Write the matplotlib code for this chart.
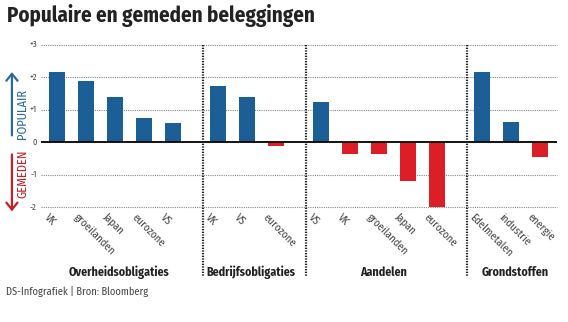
import matplotlib
matplotlib.use("Agg")
import matplotlib.pyplot as plt
from matplotlib.patches import FancyArrowPatch
from matplotlib import font_manager

names = {f.name for f in font_manager.fontManager.ttflist}
NARROW = "DejaVu Sans"
for cand in ["Fira Sans Condensed", "Barlow Semi Condensed", "Roboto Condensed",
             "IBM Plex Sans Condensed", "Archivo Narrow", "PT Sans Narrow",
             "Liberation Sans Narrow", "Encode Sans Condensed"]:
    if cand in names:
        NARROW = cand
        break
plt.rcParams['font.family'] = [NARROW, 'DejaVu Sans']

groups = ["Overheidsobligaties", "Bedrijfsobligaties", "Aandelen", "Grondstoffen"]
categories = [
    ["VK", "groeilanden", "Japan", "eurozone", "VS"],
    ["VK", "VS", "eurozone"],
    ["VS", "VK", "groeilanden", "Japan", "eurozone"],
    ["Edelmetalen", "industrie", "energie"],
]
values = [
    [2.15, 1.90, 1.38, 0.75, 0.58],
    [1.74, 1.39, -0.10],
    [1.24, -0.37, -0.37, -1.19, -2.00],
    [2.15, 0.61, -0.46],
]
yticks = [3, 2, 1, 0, -1, -2]
ytick_labels = ["+3", "+2", "+1", "0", "-1", "-2"]

BLUE = "#1c5f97"
RED = "#dc1f27"
GAP = 1.55

fig = plt.figure(figsize=(5.68, 3.22), dpi=100)
ax = fig.add_axes([0.0717, 0.351, 0.9083, 0.510])
ax.set_xlim(-0.56, 17.23)
ax.set_ylim(-2.05, 3.0)
for s in ax.spines.values():
    s.set_visible(False)
ax.set_xticks([])
ax.set_yticks([])

for yv, lab in zip(yticks, ytick_labels):
    if yv != 0:
        ax.axhline(yv, color="#888888", lw=0.8, ls=(0, (1, 1)), zorder=0, clip_on=False)
    ax.text(-0.7, yv, lab, ha="right", va="center", fontsize=6, color="#444444")
ax.axhline(0, color="black", lw=1.3, zorder=3)

start = 0.0
tr = ax.get_xaxis_transform()
for gi, (g, cats, vals) in enumerate(zip(groups, categories, values)):
    pos = [start + i for i in range(len(cats))]
    cols = [BLUE if v >= 0 else RED for v in vals]
    ax.bar(pos, vals, width=0.56, color=cols, zorder=2)
    for p, c in zip(pos, cats):
        ax.annotate(c, xy=(p, -2.05), xycoords="data", xytext=(-5, -2),
                    textcoords="offset points", rotation=-45, ha="left", va="top",
                    rotation_mode="anchor", fontsize=7.8, color="#444444",
                    annotation_clip=False)
    if gi > 0:
        xd = start - 0.5
        ax.plot([xd, xd], [1.0, -0.415], transform=tr, color="#222222",
                lw=1.6, ls=(0, (0.6, 0.6)), clip_on=False, zorder=4)
    center = sum(pos) / len(pos) + 0.15
    ax.text(center, -0.385, g, transform=tr, ha="center", va="center",
            fontsize=8.6, fontweight="bold", color="#222222")
    start = pos[-1] + GAP

fig.text(0.012, 0.952, "Populaire en gemeden beleggingen", fontsize=15,
         fontweight="bold", color="#222222", ha="left", va="center")
fig.text(0.011, 0.094, "DS-Infografiek | Bron: Bloomberg", fontsize=7.5,
         color="#444444", ha="left", va="center")

a1 = FancyArrowPatch((0.021, 0.571), (0.021, 0.785), transform=fig.transFigure,
                     arrowstyle="->,head_length=5,head_width=4", color="#2a6a9c", lw=1.6)
a2 = FancyArrowPatch((0.021, 0.529), (0.021, 0.335), transform=fig.transFigure,
                     arrowstyle="->,head_length=5,head_width=4", color="#c41e26", lw=1.6)
fig.add_artist(a1)
fig.add_artist(a2)
fig.text(0.040, 1 - 114 / 322, "POPULAIR", rotation=90, fontsize=9, color="#2a6a9c",
         ha="center", va="center")
fig.text(0.040, 1 - 174 / 322, "GEMEDEN", rotation=90, fontsize=9, color="#c41e26",
         ha="center", va="center")

fig.savefig("out.png", dpi=100)
